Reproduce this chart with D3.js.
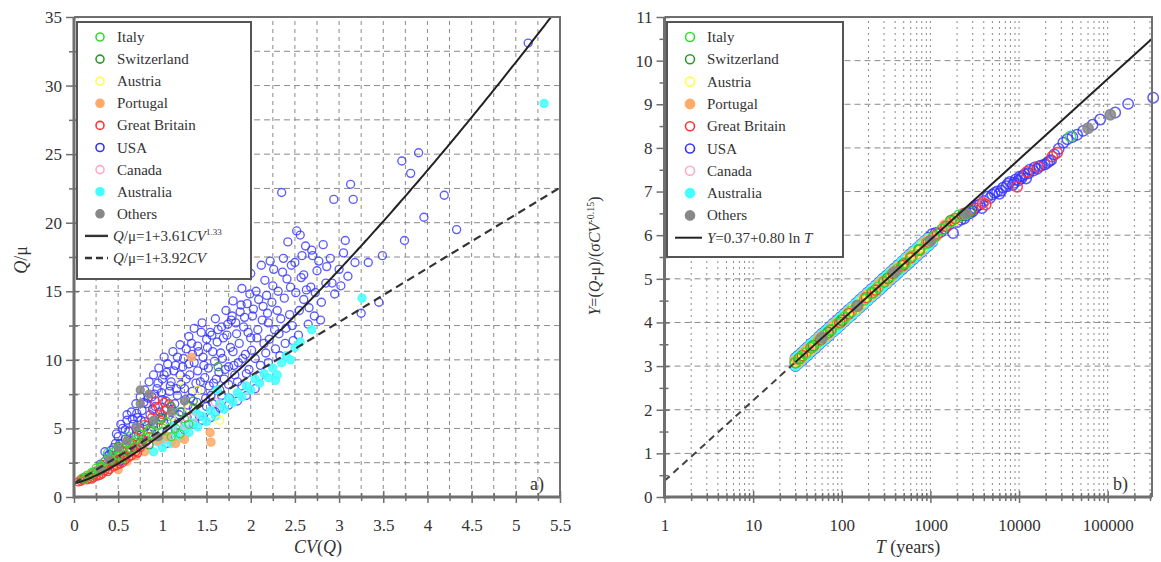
<!DOCTYPE html>
<html>
<head>
<meta charset="utf-8">
<script src="https://cdn.jsdelivr.net/npm/d3@7"></script>
<style>
body { margin: 0; background: #fff; }
svg, svg text { font-family: "Liberation Serif", "Times New Roman", Tinos, "DejaVu Serif", "Noto Serif", Times, serif !important; }
</style>
</head>
<body>
<svg id="chart" width="1161" height="562"></svg>
<script>
// ---- legend / series info ----
const countries = ['Italy', 'Switzerland', 'Austria', 'Portugal', 'Great Britain', 'USA', 'Canada', 'Australia', 'Others']
const countryColours = ['#33dd33', '#2e9a2e', '#ffff44', '#ffaa66', '#ff3333', '#3333ff', '#ffaacc', '#44ffff', '#888888']
const countryFilled = [false, false, false, true, false, false, false, true, true]

// ---- panel a) : [CV(Q), Q/mu] ----
const usaA = [[0.25,1.8],[0.3,2.4],[0.32,2.1],[0.35,2.6],[0.35,3.3],[0.38,3.0],[0.4,2.3],[0.4,3.1],[0.42,3.4],[0.45,2.8],[0.45,3.6],[0.47,3.9],[0.48,4.6],[0.5,2.4],[0.5,3.2],[0.5,4.4],[0.52,2.6],[0.52,3.9],[0.53,5.3],[0.55,3.6],[0.55,5.0],[0.57,2.9],[0.58,4.2],[0.58,4.9],[0.6,3.0],[0.6,5.6],[0.6,6.0],[0.62,4.8],[0.63,4.1],[0.64,3.8],[0.65,6.2],[0.66,5.7],[0.67,5.3],[0.68,4.4],[0.69,3.2],[0.7,6.8],[0.7,3.6],[0.7,5.0],[0.71,6.1],[0.72,5.8],[0.73,4.5],[0.74,4.9],[0.75,7.3],[0.76,5.6],[0.77,6.3],[0.78,4.2],[0.79,6.9],[0.8,5.5],[0.8,7.8],[0.81,4.0],[0.82,6.8],[0.83,5.2],[0.84,4.6],[0.84,7.2],[0.85,8.4],[0.86,6.0],[0.87,4.9],[0.88,7.3],[0.89,6.4],[0.9,5.1],[0.9,8.9],[0.91,7.5],[0.92,6.6],[0.93,5.4],[0.94,7.9],[0.95,4.3],[0.95,8.3],[0.96,9.4],[0.97,6.2],[0.98,5.8],[0.99,7.6],[1.0,7.1],[1.0,8.6],[1.01,5.2],[1.02,10.2],[1.02,8.9],[1.03,6.3],[1.04,7.0],[1.05,9.1],[1.05,3.9],[1.06,4.8],[1.06,9.7],[1.07,5.9],[1.08,7.7],[1.09,8.1],[1.1,8.4],[1.1,5.6],[1.11,6.4],[1.12,10.6],[1.13,9.2],[1.14,6.8],[1.15,9.6],[1.15,4.4],[1.16,7.9],[1.17,7.4],[1.17,10.2],[1.18,5.2],[1.19,6.0],[1.2,8.9],[1.2,11.1],[1.21,8.2],[1.22,6.2],[1.23,9.5],[1.24,10.1],[1.25,7.9],[1.25,4.9],[1.26,7.1],[1.27,8.6],[1.27,10.8],[1.28,5.8],[1.29,6.7],[1.3,9.7],[1.3,11.7],[1.31,8.9],[1.32,7.2],[1.33,11.2],[1.34,10.4],[1.34,7.7],[1.35,6.5],[1.35,5.3],[1.36,12.3],[1.36,9.8],[1.38,8.3],[1.39,6.9],[1.4,9.2],[1.4,11.0],[1.41,10.6],[1.42,5.9],[1.43,8.4],[1.44,7.8],[1.44,12.0],[1.45,12.7],[1.45,5.6],[1.46,10.2],[1.47,9.6],[1.48,8.7],[1.49,7.2],[1.5,6.6],[1.5,11.5],[1.51,10.9],[1.52,9.4],[1.53,8.1],[1.54,12.0],[1.55,7.4],[1.55,5.8],[1.56,11.8],[1.57,10.6],[1.57,6.8],[1.58,8.3],[1.59,9.9],[1.6,13.0],[1.6,6.2],[1.61,8.6],[1.62,11.3],[1.63,12.2],[1.64,9.1],[1.65,7.8],[1.65,6.5],[1.66,10.5],[1.67,12.4],[1.67,7.4],[1.68,10.1],[1.69,11.6],[1.7,8.6],[1.71,9.3],[1.72,13.6],[1.73,11.8],[1.74,12.6],[1.75,9.5],[1.75,8.2],[1.75,6.7],[1.76,7.2],[1.77,10.9],[1.78,12.9],[1.79,13.2],[1.8,10.6],[1.8,14.3],[1.81,9.6],[1.82,8.9],[1.83,12.7],[1.84,11.9],[1.85,8.4],[1.85,7.0],[1.86,9.8],[1.87,11.2],[1.88,13.5],[1.89,14.0],[1.9,8.1],[1.9,15.2],[1.91,10.1],[1.92,12.4],[1.93,13.1],[1.94,10.4],[1.95,9.0],[1.95,7.4],[1.96,14.1],[1.97,12.0],[1.98,9.3],[1.99,14.8],[2.0,11.6],[2.0,16.3],[2.01,10.7],[2.02,13.2],[2.03,13.7],[2.05,10.1],[2.05,7.9],[2.06,15.0],[2.07,11.6],[2.08,12.2],[2.09,14.4],[2.1,8.8],[2.11,9.6],[2.12,16.9],[2.13,12.9],[2.14,13.9],[2.15,11.2],[2.16,15.8],[2.17,10.5],[2.18,14.7],[2.19,13.4],[2.2,9.8],[2.2,12.7],[2.21,11.5],[2.22,17.2],[2.24,14.2],[2.25,15.4],[2.26,16.6],[2.27,12.2],[2.28,10.8],[2.3,13.6],[2.31,15.0],[2.32,11.9],[2.33,10.3],[2.34,13.0],[2.35,22.2],[2.36,16.4],[2.37,17.4],[2.38,14.5],[2.39,11.2],[2.4,12.3],[2.41,15.9],[2.42,18.6],[2.44,13.3],[2.45,15.3],[2.46,16.9],[2.47,12.5],[2.48,11.4],[2.5,17.1],[2.51,14.9],[2.52,19.4],[2.54,11.8],[2.55,13.6],[2.56,19.1],[2.57,16.0],[2.58,17.6],[2.6,14.4],[2.6,16.2],[2.62,18.3],[2.63,15.1],[2.65,12.6],[2.66,13.8],[2.68,15.3],[2.69,18.0],[2.7,17.6],[2.72,13.2],[2.73,14.9],[2.75,16.5],[2.77,17.2],[2.79,12.9],[2.8,14.2],[2.82,18.4],[2.85,15.6],[2.86,16.8],[2.9,17.4],[2.92,15.6],[2.94,21.7],[2.95,14.8],[3.0,16.6],[3.02,15.4],[3.05,17.8],[3.07,18.7],[3.1,16.1],[3.13,22.8],[3.16,21.7],[3.18,17.1],[3.25,13.4],[3.33,17.1],[3.45,14.2],[3.49,17.6],[3.71,24.5],[3.74,18.7],[3.81,23.6],[3.9,25.1],[3.96,20.4],[4.19,22.0],[4.33,19.5],[5.14,33.1]]
const australiaA = [[0.9,3.3],[0.95,4.0],[1.0,3.6],[1.05,4.2],[1.1,3.9],[1.12,5.2],[1.15,4.6],[1.2,4.3],[1.25,5.0],[1.3,4.7],[1.35,5.4],[1.38,6.2],[1.4,5.1],[1.45,5.9],[1.5,5.5],[1.55,6.3],[1.6,5.9],[1.62,7.8],[1.65,6.8],[1.7,6.4],[1.75,7.2],[1.8,6.9],[1.85,7.6],[1.9,7.3],[1.95,8.1],[2.0,7.8],[2.05,8.6],[2.1,8.3],[2.15,9.0],[2.2,8.7],[2.25,9.4],[2.28,8.5],[2.3,8.9],[2.35,9.8],[2.4,10.3],[2.45,10.0],[2.5,10.9],[2.56,11.3],[2.69,12.2],[3.26,14.5],[5.32,28.7]]
const canadaA = [[0.4,2.0],[0.6,2.7],[0.7,3.1],[0.85,3.9],[1.0,4.2],[1.1,4.9],[1.25,5.3],[1.35,5.8],[1.6,6.9]]
const portugalA = [[0.4,2.4],[0.5,2.0],[0.6,2.6],[0.7,3.0],[0.8,3.3],[0.95,4.1],[1.05,4.4],[1.15,3.9],[1.25,4.2],[1.33,10.2],[1.54,4.7],[1.55,4.0]]
const austriaA = [[0.3,2.1],[0.5,2.9],[0.6,3.5],[0.7,3.9],[0.8,4.4],[0.9,4.8],[1.0,5.2],[1.1,5.9],[1.2,8.5],[1.3,6.5],[1.4,7.8],[1.65,5.6]]
const greatBritainA = [[0.05,1.1],[0.08,1.15],[0.08,1.3],[0.1,1.25],[0.12,1.3],[0.12,1.45],[0.15,1.45],[0.15,1.25],[0.18,1.5],[0.18,1.35],[0.2,1.7],[0.2,1.3],[0.22,1.6],[0.22,1.4],[0.25,1.9],[0.25,1.5],[0.28,1.8],[0.28,1.55],[0.3,2.2],[0.3,1.6],[0.32,2.0],[0.32,1.7],[0.35,2.4],[0.35,1.9],[0.38,2.2],[0.38,1.85],[0.4,2.7],[0.4,2.0],[0.42,2.5],[0.45,2.9],[0.45,2.2],[0.48,2.6],[0.48,2.3],[0.5,3.2],[0.52,2.8],[0.52,2.4],[0.55,3.4],[0.55,2.5],[0.58,3.0],[0.58,2.7],[0.6,3.8],[0.62,3.3],[0.62,2.9],[0.65,4.0],[0.65,3.0],[0.68,3.6],[0.7,4.4],[0.7,3.3],[0.72,3.2],[0.75,4.8],[0.75,3.6],[0.78,3.9],[0.8,5.3],[0.82,4.1],[0.85,4.4],[0.88,5.8],[0.9,6.3],[0.92,7.0],[0.95,6.6],[0.98,5.6],[1.0,6.0],[1.02,6.9],[1.05,6.4],[1.08,6.8]]
const switzerlandA = [[0.3,2.0],[0.45,2.6],[0.5,3.7],[0.6,3.4],[0.75,4.0],[0.85,3.8],[0.9,5.3],[1.0,5.8],[1.1,6.6],[1.2,6.2],[1.35,7.0],[1.63,9.5]]
const italyA = [[0.1,1.4],[0.12,1.3],[0.15,1.6],[0.18,1.55],[0.2,1.8],[0.22,1.7],[0.25,2.1],[0.28,1.9],[0.3,2.3],[0.32,2.2],[0.35,2.6],[0.38,3.2],[0.4,2.9],[0.42,2.7],[0.45,3.3],[0.48,3.5],[0.5,3.0],[0.55,3.6],[0.55,2.8],[0.6,3.9],[0.62,4.4],[0.65,3.5],[0.68,4.0],[0.7,4.2],[0.75,4.6],[0.78,5.1],[0.8,4.3],[0.85,4.9],[0.9,4.5],[0.95,5.2],[1.0,4.8],[1.05,5.5],[1.1,4.4],[1.15,5.0],[1.2,4.6],[1.25,5.7],[1.3,5.3]]
const othersA = [[0.3,2.0],[0.4,2.7],[0.5,3.6],[0.6,4.1],[0.7,5.1],[0.75,6.8],[0.75,7.8],[0.85,7.5],[0.9,5.6],[0.95,4.4],[1.1,6.2],[1.25,7.0]]

// ---- panel b) : [T (years), Y] ----
const usaB = [[30,3.18],[32,3.05],[35,3.30],[38,3.19],[41,3.43],[45,3.33],[50,3.59],[55,3.49],[60,3.74],[66,3.63],[72,3.88],[80,3.79],[88,4.04],[97,3.94],[107,4.20],[118,4.10],[130,4.35],[145,4.26],[160,4.52],[175,4.41],[195,4.68],[215,4.58],[240,4.84],[265,4.74],[290,5.00],[320,4.89],[355,5.16],[390,5.05],[430,5.31],[480,5.22],[530,5.48],[580,5.37],[640,5.63],[710,5.53],[780,5.79],[860,5.69],[950,5.94],[1050,5.85],
    [30,3.00],[32,3.23],[35,3.12],[38,3.37],[41,3.25],[45,3.51],[50,3.41],[55,3.67],[60,3.56],[66,3.81],[72,3.70],[80,3.97],[88,3.86],[97,4.12],[107,4.02],[118,4.28],[130,4.17],[145,4.44],[160,4.34],[175,4.59],[195,4.50],[215,4.76],[240,4.66],[265,4.92],[290,4.82],[320,5.07],[355,4.98],[390,5.23],[430,5.13],[480,5.40],[530,5.30],[580,5.55],[640,5.45],[710,5.71],[780,5.61],[860,5.87],[950,5.76],[1050,6.03],
    [1150,6.05],[1300,6.07],[1450,6.15],[1600,6.23],[1800,6.05],[2000,6.30],[2200,6.35],[2400,6.38],[2500,6.45],[2800,6.50],[3000,6.55],[3200,6.62],[3400,6.68],[3600,6.70],[3800,6.62],[4000,6.78],[4400,6.88],[4700,6.85],[5000,6.93],[5300,6.97],[5650,7.0],[6000,6.95],[6300,7.02],[6600,7.09],[7200,7.12],[7500,7.18],[7900,7.22],[8500,7.15],[8800,7.20],[9200,7.28],[9800,7.25],[10200,7.34],[10600,7.30],[11000,7.36],[11600,7.40],[12000,7.30],[12800,7.42],[13200,7.5],[14500,7.48],[15000,7.55],[16000,7.52],[17000,7.58],[18000,7.6],[19500,7.62],[20800,7.66],[22000,7.70],[23000,7.72],[25000,7.85],[28000,7.98],[31600,8.12],[35000,8.2],[40000,8.25],[45200,8.3],[52900,8.39],[67500,8.53],[82200,8.65],[121600,8.81],[170000,9.01],[326000,9.15]]
const australiaB = [[30,3.16],[32,3.07],[35,3.28],[38,3.21],[41,3.41],[45,3.35],[50,3.57],[55,3.51],[60,3.72],[66,3.65],[72,3.86],[80,3.81],[88,4.02],[97,3.96],[107,4.18],[118,4.12],[130,4.33],[145,4.28],[160,4.50],[175,4.43],[195,4.66],[215,4.60],[240,4.82],[265,4.76],[290,4.98],[320,4.91],[355,5.14],[390,5.07],[430,5.29],[480,5.24],[530,5.46],[580,5.39],[640,5.61],[710,5.55],[780,5.77],[860,5.71],[950,5.92],[1050,5.87],
    [30,3.02],[32,3.21],[35,3.14],[38,3.35],[41,3.27],[45,3.49],[50,3.43],[55,3.65],[60,3.58],[66,3.79],[72,3.72],[80,3.95],[88,3.88],[97,4.10],[107,4.04],[118,4.26],[130,4.19],[145,4.42],[160,4.36],[175,4.57],[195,4.52],[215,4.74],[240,4.68],[265,4.90],[290,4.84],[320,5.05],[355,5.00],[390,5.21],[430,5.15],[480,5.38],[530,5.32],[580,5.53],[640,5.47],[710,5.69],[780,5.63],[860,5.85],[950,5.78]]
const canadaB = [[40,3.33],[70,3.77],[120,4.20],[200,4.61],[350,5.06],[600,5.48],[1000,5.88],[1700,6.30],[4000,6.75]]
const portugalB = [[30,3.13],[32,3.10],[35,3.17],[38,3.32],[41,3.38],[45,3.38],[50,3.46],[55,3.62],[60,3.69],[66,3.68],[72,3.75],[80,3.92],[88,3.99],[97,3.99],[107,4.07],[118,4.23],[130,4.30],[145,4.31],[160,4.39],[175,4.54],[195,4.63],[215,4.63],[240,4.71],[265,4.87],[290,4.95],[320,4.94],[355,5.03],[390,5.18],[430,5.26],[480,5.27],[530,5.35],[580,5.50],[640,5.58],[710,5.58],[780,5.66],[860,5.82],[950,5.89],[1150,5.97],[1450,6.23],[1800,6.33]]
const austriaB = [[31,3.11],[37,3.26],[44,3.40],[53,3.55],[63,3.68],[76,3.84],[92,3.99],[112,4.14],[137,4.31],[168,4.47],[205,4.63],[250,4.79],[305,4.94],[370,5.10],[450,5.26],[550,5.42],[680,5.59],[830,5.75],[1000,5.90],[1900,6.35]]
const greatBritainB = [[30,3.08],[36,3.24],[45,3.42],[58,3.61],[75,3.82],[95,4.00],[120,4.20],[150,4.38],[190,4.57],[240,4.74],[300,4.93],[380,5.12],[480,5.30],[600,5.48],[750,5.66],[950,5.84],[1200,6.03],[1500,6.20],[1900,6.38],[2400,6.50],[3000,6.60],[3900,6.74],[4200,6.70],[9500,7.11],[12300,7.45],[16400,7.57],[23700,7.8],[26900,7.89]]
const switzerlandB = [[33,3.17],[48,3.47],[70,3.77],[100,4.05],[150,4.38],[220,4.68],[330,5.01],[500,5.34],[750,5.67],[1100,5.97],[1700,6.33],[2300,6.45],[2800,6.54]]
const italyB = [[30,3.08],[34,3.19],[39,3.29],[46,3.43],[54,3.56],[64,3.70],[76,3.83],[90,3.97],[108,4.12],[128,4.25],[150,4.38],[180,4.52],[215,4.67],[255,4.80],[300,4.93],[360,5.08],[430,5.22],[520,5.37],[620,5.52],[750,5.67],[900,5.81],[1100,5.97],[1350,6.13],[1700,6.31],[2100,6.46],[2500,6.48],[38000,8.26]]
const othersB = [[60,3.65],[150,4.39],[400,5.16],[1000,5.88],[2500,6.50],[60000,8.45],[107000,8.76]]

// ---- axes ticks ----
const xTicksA = [0, 0.5, 1, 1.5, 2, 2.5, 3, 3.5, 4, 4.5, 5, 5.5]
const yTicksA = [0, 5, 10, 15, 20, 25, 30, 35]
const xTicksB = [1, 10, 100, 1000, 10000, 100000]
const yTicksB = [0, 1, 2, 3, 4, 5, 6, 7, 8, 9, 10, 11]

const seriesA = [usaA, australiaA, canadaA, portugalA, austriaA, greatBritainA, switzerlandA, italyA, othersA]
const seriesB = [usaB, australiaB, canadaB, portugalB, austriaB, greatBritainB, switzerlandB, italyB, othersB]
const seriesIdx = [5, 7, 6, 3, 2, 4, 1, 0, 8] // order drawn -> country index

const svg = d3.select('#chart')
const serif = '"Liberation Serif", "Times New Roman", Tinos, "DejaVu Serif", "Noto Serif", Times, serif'
const frameColour = '#6f6f6f'
const gridColour = '#8a8a8a'
const textColour = '#333'

const xA = d3.scaleLinear().domain([0, 5.5]).range([74, 560])
const yA = d3.scaleLinear().domain([0, 35]).range([497, 17])
const xB = d3.scaleLog().domain([1, 316228]).range([664.5, 1152])
const yB = d3.scaleLinear().domain([0, 11]).range([497, 17])

const minorLog = []
for (let e = 0; e <= 5; e++) {
    for (let m = 1; m <= 9; m++) {
        const v = m * Math.pow(10, e)
        if (v <= 316228) minorLog.push(v)
    }
}

// ---------- grids ----------
const drawGrid = (g, xs, ys, xScale, yScale, xDash, yDash) => {
    const [x0, x1] = xScale.range()
    const [y0, y1] = yScale.range()
    g.selectAll('.gx').data(xs).join('line')
        .attr('x1', d => xScale(d)).attr('x2', d => xScale(d))
        .attr('y1', y0).attr('y2', y1)
        .attr('stroke', gridColour).attr('stroke-width', 1).attr('stroke-dasharray', xDash)
    g.selectAll('.gy').data(ys).join('line').attr('class', 'gy')
        .attr('x1', x0).attr('x2', x1)
        .attr('y1', d => yScale(d)).attr('y2', d => yScale(d))
        .attr('stroke', gridColour).attr('stroke-width', 1).attr('stroke-dasharray', yDash)
}

const gridA = svg.append('g')
drawGrid(gridA, d3.range(0.25, 5.5, 0.25), d3.range(2.5, 35, 2.5), xA, yA, '4,4', '6,4')
const gridB = svg.append('g')
drawGrid(gridB, minorLog.filter(d => d > 1), d3.range(1, 11, 1), xB, yB, '2,4', '6,4')

// ---------- scatter ----------
const drawSeries = (g, allSeries, xScale, yScale, r, sw) => {
    allSeries.forEach((data, i) => {
        const c = seriesIdx[i]
        g.append('g').selectAll('circle').data(data).join('circle')
            .attr('cx', d => xScale(d[0]))
            .attr('cy', d => yScale(d[1]))
            .attr('r', r)
            .attr('fill', countryFilled[c] ? countryColours[c] : 'none')
            .attr('fill-opacity', 0.85)
            .attr('stroke', countryColours[c])
            .attr('stroke-opacity', c === 5 ? 0.8 : 0.9)
            .attr('stroke-width', sw)
    })
}

drawSeries(svg.append('g'), seriesA, xA, yA, 4, 1.35)
drawSeries(svg.append('g'), seriesB, xB, yB, 5.2, 1.5)

// ---------- fitted lines ----------
svg.append('clipPath').attr('id', 'clipA').append('rect')
    .attr('x', 74).attr('y', 17).attr('width', 486).attr('height', 480)

const cvs = d3.range(0, 5.51, 0.02)
svg.append('path')
    .attr('clip-path', 'url(#clipA)')
    .attr('d', d3.line().x(d => xA(d)).y(d => yA(1 + 3.61 * Math.pow(d, 1.33)))(cvs))
    .attr('fill', 'none').attr('stroke', '#222').attr('stroke-width', 2)
svg.append('path')
    .attr('d', d3.line().x(d => xA(d)).y(d => yA(1 + 3.92 * d))([0, 5.5]))
    .attr('fill', 'none').attr('stroke', '#333').attr('stroke-width', 2.2).attr('stroke-dasharray', '8,5')

const fitB = t => 0.37 + 0.80 * Math.log(t)
svg.append('path')
    .attr('d', d3.line().x(d => xB(d)).y(d => yB(fitB(d)))([1, 30]))
    .attr('fill', 'none').attr('stroke', '#444').attr('stroke-width', 2).attr('stroke-dasharray', '7,5')
svg.append('path')
    .attr('d', d3.line().x(d => xB(d)).y(d => yB(fitB(d)))([30, 316228]))
    .attr('fill', 'none').attr('stroke', '#222').attr('stroke-width', 2)

// ---------- axes ----------
const styleAxis = (g, inner, horizontal) => {
    g.attr('font-family', serif)
    g.select('.domain').remove()
    g.selectAll('.tick line').attr('stroke', frameColour).attr('stroke-width', 1.5)
    if (horizontal) g.selectAll('.tick line').attr('y1', -inner)
    else g.selectAll('.tick line').attr('x1', inner)
    g.selectAll('.tick text').attr('fill', textColour).style('font-size', '17px')
}

const fmt = d3.format('~g')
// panel a
svg.append('g').attr('transform', 'translate(0,497)')
    .call(d3.axisBottom(xA).tickValues(d3.range(0.25, 5.5, 0.5)).tickSize(4).tickFormat(''))
    .call(g => styleAxis(g, 4, true))
svg.append('g').attr('transform', 'translate(0,497)')
    .call(d3.axisBottom(xA).tickValues(xTicksA).tickSize(6).tickPadding(16).tickFormat(fmt))
    .call(g => styleAxis(g, 6, true))
svg.append('g').attr('transform', 'translate(74,0)')
    .call(d3.axisLeft(yA).tickValues(d3.range(2.5, 35, 5)).tickSize(5).tickFormat(''))
    .call(g => styleAxis(g, 4, false))
svg.append('g').attr('transform', 'translate(74,0)')
    .call(d3.axisLeft(yA).tickValues(yTicksA).tickSize(8).tickPadding(4).tickFormat(fmt))
    .call(g => styleAxis(g, 5, false))
// panel b
svg.append('g').attr('transform', 'translate(0,497)')
    .call(d3.axisBottom(xB).tickValues(minorLog.filter(d => xTicksB.indexOf(d) < 0)).tickSize(4).tickFormat(''))
    .call(g => styleAxis(g, 4, true))
svg.append('g').attr('transform', 'translate(0,497)')
    .call(d3.axisBottom(xB).tickValues(xTicksB).tickSize(6).tickPadding(16).tickFormat(d => d))
    .call(g => styleAxis(g, 6, true))
svg.append('g').attr('transform', 'translate(664.5,0)')
    .call(d3.axisLeft(yB).tickValues(d3.range(0.5, 11, 1)).tickSize(5).tickFormat(''))
    .call(g => styleAxis(g, 4, false))
svg.append('g').attr('transform', 'translate(664.5,0)')
    .call(d3.axisLeft(yB).tickValues(yTicksB).tickSize(8).tickPadding(4).tickFormat(fmt))
    .call(g => styleAxis(g, 5, false))

// ---------- frames ----------
const drawFrame = (xScale, yScale) => {
    const [x0, x1] = xScale.range()
    const [y0, y1] = yScale.range()
    svg.append('path').attr('d', `M${x0},${y1}H${x1}V${y0}`)
        .attr('fill', 'none').attr('stroke', frameColour).attr('stroke-width', 2)
    svg.append('path').attr('d', `M${x0},${y1}V${y0}H${x1}`)
        .attr('fill', 'none').attr('stroke', frameColour).attr('stroke-width', 3)
}
drawFrame(xA, yA)
drawFrame(xB, yB)

// ---------- axis titles ----------
const tA = svg.append('text').attr('transform', 'translate(27,260) rotate(-90)')
    .attr('text-anchor', 'middle').attr('fill', textColour).style('font-size', '18px')
tA.append('tspan').style('font-style', 'italic').text('Q')
tA.append('tspan').text('/μ')

const xtA = svg.append('text').attr('x', 318).attr('y', 553)
    .attr('text-anchor', 'middle').attr('fill', textColour).style('font-size', '18px')
xtA.append('tspan').style('font-style', 'italic').text('CV')
xtA.append('tspan').text('(')
xtA.append('tspan').style('font-style', 'italic').text('Q')
xtA.append('tspan').text(')')

const tB = svg.append('text').attr('transform', 'translate(600,256) rotate(-90)')
    .attr('text-anchor', 'middle').attr('fill', textColour).style('font-size', '16px')
tB.append('tspan').style('font-style', 'italic').text('Y')
tB.append('tspan').text('=(')
tB.append('tspan').style('font-style', 'italic').text('Q')
tB.append('tspan').text('-μ)/(σ')
tB.append('tspan').style('font-style', 'italic').text('CV')
tB.append('tspan').attr('dy', -6).style('font-size', '10px').text('-0.15')
tB.append('tspan').attr('dy', 6).text(')')

const xtB = svg.append('text').attr('x', 908).attr('y', 553)
    .attr('text-anchor', 'middle').attr('fill', textColour).style('font-size', '18px')
xtB.append('tspan').style('font-style', 'italic').text('T')
xtB.append('tspan').text(' (years)')

svg.append('text').attr('x', 530).attr('y', 490).attr('fill', textColour).style('font-size', '18px').text('a)')
svg.append('text').attr('x', 1113).attr('y', 490).attr('fill', textColour).style('font-size', '18px').text('b)')

// ---------- legends ----------
const drawLegend = (x, y, w, h, markerX, textX, rowY, r) => {
    const g = svg.append('g')
    g.append('rect').attr('x', x).attr('y', y).attr('width', w).attr('height', h)
        .attr('fill', '#fff').attr('stroke', '#555').attr('stroke-width', 2)
    countries.forEach((name, i) => {
        const cy = rowY(i)
        g.append('circle').attr('cx', markerX).attr('cy', cy).attr('r', r)
            .attr('fill', countryFilled[i] ? countryColours[i] : 'none')
            .attr('stroke', countryColours[i]).attr('stroke-width', 1.6)
        g.append('text').attr('x', textX).attr('y', cy + 5).attr('fill', textColour)
            .style('font-size', '15px').text(name)
    })
    return g
}

const rowA = i => 37 + i * 22.1
const legA = drawLegend(77, 22, 174, 257, 100, 117, rowA, 4)
const lineRow = (g, y, dash, parts) => {
    g.append('line').attr('x1', 85).attr('x2', 108).attr('y1', y).attr('y2', y)
        .attr('stroke', '#333').attr('stroke-width', 2.4).attr('stroke-dasharray', dash)
    const t = g.append('text').attr('x', 113).attr('y', y + 5).attr('fill', textColour).style('font-size', '15px')
    parts.forEach(p => {
        const s = t.append('tspan').text(p.t)
        if (p.i) s.style('font-style', 'italic')
        if (p.sup) s.attr('dy', -6).style('font-size', '9px')
    })
}
lineRow(legA, rowA(9), null, [{ t: 'Q', i: true }, { t: '/μ=1+3.61' }, { t: 'CV', i: true }, { t: '1.33', sup: true }])
lineRow(legA, rowA(10), '7,4', [{ t: 'Q', i: true }, { t: '/μ=1+3.92' }, { t: 'CV', i: true }])

const rowB = i => 37 + i * 22.3
const legB = drawLegend(667, 22, 176, 235, 690, 707, rowB, 4.5)
legB.append('line').attr('x1', 675).attr('x2', 702).attr('y1', rowB(9)).attr('y2', rowB(9))
    .attr('stroke', '#222').attr('stroke-width', 2)
const tl = legB.append('text').attr('x', 707).attr('y', rowB(9) + 5).attr('fill', textColour).style('font-size', '15px')
tl.append('tspan').style('font-style', 'italic').text('Y')
tl.append('tspan').text('=0.37+0.80 ln ')
tl.append('tspan').style('font-style', 'italic').text('T')
</script>
</body>
</html>
